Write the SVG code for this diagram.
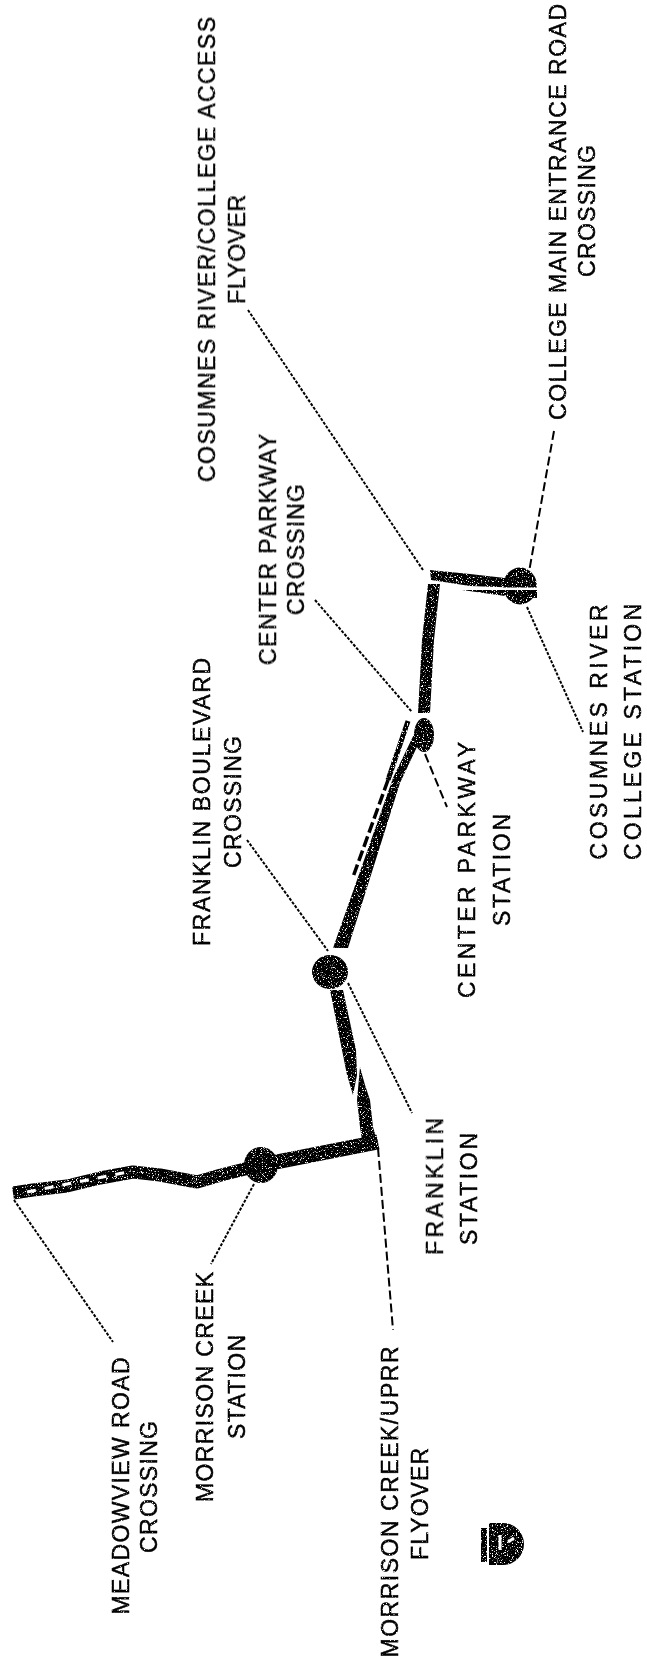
<svg xmlns="http://www.w3.org/2000/svg" width="647" height="1669" viewBox="0 0 647 1669">
<defs>
<filter id="speck" x="-10%" y="-10%" width="120%" height="120%">
<feTurbulence type="fractalNoise" baseFrequency="0.8" numOctaves="2" seed="3" result="n"/>
<feColorMatrix in="n" type="matrix" values="0 0 0 0 0  0 0 0 0 0  0 0 0 0 0  0 0 0 -9 6.4" result="m"/>
<feComposite in="SourceGraphic" in2="m" operator="in"/>
</filter>
<filter id="rough" x="-5%" y="-5%" width="110%" height="110%">
<feTurbulence type="fractalNoise" baseFrequency="0.7" numOctaves="2" seed="8" result="n"/>
<feColorMatrix in="n" type="matrix" values="0 0 0 0 0  0 0 0 0 0  0 0 0 0 0  0 0 0 -10 7.6" result="m"/>
<feComposite in="SourceGraphic" in2="m" operator="in"/>
</filter>
</defs>
<style>
text{font-family:"Liberation Sans",Arial,sans-serif;font-size:23px;fill:#000;stroke:#000;stroke-width:.5;text-anchor:middle;filter:url(#rough)}
.lead{fill:none;stroke:#000;stroke-width:2}
.dash{stroke-dasharray:9 4}
.dot{stroke-dasharray:3 1.5}
.rail{fill:none;stroke:#000;stroke-linejoin:round}
.blob{fill:#000}
.gap{stroke:#fff;stroke-width:3;fill:none}
</style>
<rect width="647" height="1669" fill="#fff"/>
<g id="connectors">
<path class="lead dot" d="M14 1200L113 1342"/>
<path class="lead dot" d="M254 1184L211 1264"/>
<path class="lead dash" d="M378 1148L393 1330"/>
<path class="lead dot" d="M348 983L412 1113"/>
<path class="lead dot" d="M247 840L328 951"/>
<path class="lead dot" d="M315 600L412 712"/>
<path class="lead dash" d="M425 754L447 807"/>
<path class="lead dot" d="M527 607L583 732"/>
<path class="lead dot" d="M248 310L423 570"/>
<path class="lead dash" d="M554 431L529 572"/>
</g>
<g id="alignment">
<g filter="url(#speck)">
<path class="rail" stroke-width="13" d="M13 1193L33 1190L67 1186L100 1178L133 1172L160 1175L197 1182L221 1175L261 1165"/>
<path class="rail" stroke-width="15" d="M261 1165L378 1142"/>
<path class="blob" d="M330 990L343 990L356 1050L357 1075L353 1095L347 1075L340 1040Z"/>
<path class="blob" d="M360 1067L365 1085L370 1100L373 1127L377 1140L362 1140L360 1127L357 1100Z"/>
<path class="blob" d="M418 726L424 732L400 783L348 948L333 948L393 778Z"/>
<path class="rail" stroke-width="5" d="M408 721L388 780"/>
<path class="blob" d="M428 584L440 584L434 640L430 713L418 713L422 640Z"/>
<path class="blob" d="M430 570L470 574L505 578L525 578L525 588L470 586L431 580Z"/>
<path class="blob" d="M462 590L537 590L537 598L505 596Z"/>
</g>
<path class="rail" stroke-width="3.5" stroke-dasharray="11 4" d="M388 780L353 877"/>
<path class="gap" stroke-dasharray="9 9" d="M27 1192L133 1171"/>
</g>
<g id="meadowview-road-crossing">
<text textLength="257" transform="translate(129,1486) rotate(-90)">MEADOWVIEW ROAD</text>
<text textLength="132" transform="translate(157,1487) rotate(-90)">CROSSING</text>
</g>
<g id="morrison-creek-station">
<ellipse class="blob" cx="261" cy="1165" rx="17" ry="18" filter="url(#speck)"/>
<text textLength="230" transform="translate(213,1387) rotate(-90)">MORRISON CREEK</text>
<text textLength="104" transform="translate(245,1387) rotate(-90)">STATION</text>
</g>
<g id="morrison-creek-uprr-flyover">
<text textLength="311" transform="translate(398,1502) rotate(-90)">MORRISON CREEK/UPRR</text>
<text textLength="112" transform="translate(428,1504) rotate(-90)">FLYOVER</text>
</g>
<g id="franklin-station">
<ellipse class="blob" cx="330" cy="972" rx="18" ry="17" filter="url(#speck)"/>
<text textLength="137" transform="translate(443,1186.500) rotate(-90)">FRANKLIN</text>
<text textLength="112" transform="translate(477,1189) rotate(-90)">STATION</text>
</g>
<g id="franklin-boulevard-crossing">
<text textLength="288" transform="translate(210,802) rotate(-90)">FRANKLIN BOULEVARD</text>
<text textLength="132" transform="translate(241,802) rotate(-90)">CROSSING</text>
</g>
<g id="center-parkway-crossing">
<text textLength="231" transform="translate(276,549.500) rotate(-90)">CENTER PARKWAY</text>
<text textLength="131" transform="translate(304,549.500) rotate(-90)">CROSSING</text>
</g>
<g id="center-parkway-station">
<ellipse class="blob" cx="424" cy="735" rx="10" ry="17" filter="url(#speck)"/>
<text textLength="256" transform="translate(475,870) rotate(-90)">CENTER PARKWAY</text>
<text textLength="112" transform="translate(510,870) rotate(-90)">STATION</text>
</g>
<g id="cosumnes-river-college-station">
<ellipse class="blob" cx="520" cy="586" rx="17" ry="18.500" filter="url(#speck)"/>
<rect x="460" y="587.500" width="82" height="2.500" fill="#fff"/>
<text textLength="255" transform="translate(607,732) rotate(-90)">COSUMNES RIVER</text>
<text textLength="256" transform="translate(641,732) rotate(-90)">COLLEGE STATION</text>
</g>
<g id="cosumnes-river-college-access-flyover">
<text textLength="465" transform="translate(215,249.500) rotate(-90)">COSUMNES RIVER/COLLEGE ACCESS</text>
<text textLength="109" transform="translate(245,249.500) rotate(-90)">FLYOVER</text>
</g>
<g id="college-main-entrance-road-crossing">
<text textLength="416" transform="translate(566,212) rotate(-90)">COLLEGE MAIN ENTRANCE ROAD</text>
<text textLength="132" transform="translate(595,211) rotate(-90)">CROSSING</text>
</g>
<g id="logo">
<g filter="url(#speck)">
<path class="blob" d="M489 1523H503A21 21 0 0 1 503 1565H489Z"/>
<rect class="blob" x="481" y="1528" width="6" height="34"/>
</g>
<path d="M500 1535V1550M508 1542L514 1538" stroke="#fff" stroke-width="3" fill="none"/>
</g>
</svg>
